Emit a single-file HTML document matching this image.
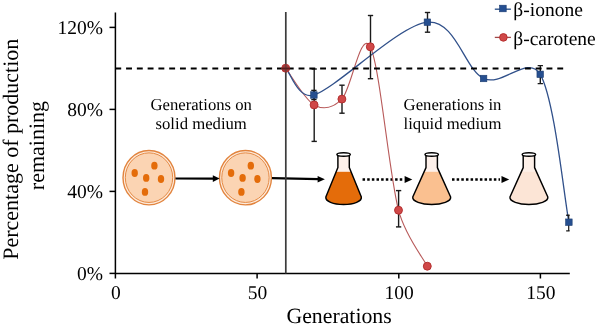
<!DOCTYPE html>
<html><head><meta charset="utf-8"><style>
html,body{margin:0;padding:0;background:#fff;width:598px;height:330px;overflow:hidden}
svg{display:block;will-change:transform}
text{text-rendering:geometricPrecision}
</style></head><body>
<svg width="598" height="330" viewBox="0 0 598 330">
<rect width="598" height="330" fill="#fff"/>
<g stroke="#000" stroke-width="1.5">
<line x1="115.4" y1="12.5" x2="115.4" y2="274"/>
<line x1="115" y1="273.4" x2="569.8" y2="273.4"/>
<line x1="109.5" y1="273.4" x2="115.4" y2="273.4"/>
<line x1="109.5" y1="191.4" x2="115.4" y2="191.4"/>
<line x1="109.5" y1="109.4" x2="115.4" y2="109.4"/>
<line x1="109.5" y1="27.4" x2="115.4" y2="27.4"/>
<line x1="115.4" y1="273.4" x2="115.4" y2="278.5"/>
<line x1="257.1" y1="273.4" x2="257.1" y2="278.5"/>
<line x1="398.8" y1="273.4" x2="398.8" y2="278.5"/>
<line x1="540.4" y1="273.4" x2="540.4" y2="278.5"/>
</g>
<ellipse cx="149.0" cy="177.65" rx="26.0" ry="27.2" fill="#fdebdc" stroke="#e2843e" stroke-width="1.4"/><ellipse cx="149.0" cy="177.65" rx="23.7" ry="24.8" fill="#fbd4b3" stroke="#e58a45" stroke-width="1"/><ellipse cx="134.7" cy="173.0" rx="3.2" ry="3.9" fill="#e46c0a"/><ellipse cx="154.4" cy="165.7" rx="3.2" ry="3.9" fill="#e46c0a"/><ellipse cx="146.2" cy="177.9" rx="3.2" ry="3.9" fill="#e46c0a"/><ellipse cx="161.0" cy="179.0" rx="3.2" ry="3.9" fill="#e46c0a"/><ellipse cx="145.0" cy="191.9" rx="3.2" ry="3.9" fill="#e46c0a"/>
<ellipse cx="245.45" cy="177.65" rx="26.0" ry="27.2" fill="#fdebdc" stroke="#e2843e" stroke-width="1.4"/><ellipse cx="245.45" cy="177.65" rx="23.7" ry="24.8" fill="#fbd4b3" stroke="#e58a45" stroke-width="1"/><ellipse cx="231.1" cy="173.0" rx="3.2" ry="3.9" fill="#e46c0a"/><ellipse cx="250.8" cy="165.7" rx="3.2" ry="3.9" fill="#e46c0a"/><ellipse cx="242.6" cy="177.9" rx="3.2" ry="3.9" fill="#e46c0a"/><ellipse cx="257.4" cy="179.0" rx="3.2" ry="3.9" fill="#e46c0a"/><ellipse cx="241.4" cy="191.9" rx="3.2" ry="3.9" fill="#e46c0a"/>
<g stroke="#000" stroke-width="2.2"><line x1="175.5" y1="178.5" x2="213.5" y2="178.6"/><line x1="272" y1="178.1" x2="318.5" y2="179.2"/></g>
<path d="M212.8,175.3 L219.6,178.6 L212.8,181.9 Z" fill="#000"/>
<path d="M317.6,176 L324.9,179.3 L317.6,182.6 Z" fill="#000"/>
<path d="M337.90000000000003,154.5 L337.90000000000003,167.6 L325.85,197.0 C325.25,201.3 333.10,204.5 343.6,204.5 C354.10,204.5 361.95,201.3 361.35,197.0 L349.3,167.6 L349.3,154.5 Z" fill="#fdf0ea"/><clipPath id="fc343"><path d="M337.90000000000003,154.5 L337.90000000000003,167.6 L325.85,197.0 C325.25,201.3 333.10,204.5 343.6,204.5 C354.10,204.5 361.95,201.3 361.35,197.0 L349.3,167.6 L349.3,154.5 Z"/></clipPath><rect x="318.6" y="171.8" width="50" height="40" fill="#e46c0a" clip-path="url(#fc343)"/><path d="M337.90000000000003,154.5 L337.90000000000003,167.6 L325.85,197.0 C325.25,201.3 333.10,204.5 343.6,204.5 C354.10,204.5 361.95,201.3 361.35,197.0 L349.3,167.6 L349.3,154.5 Z" fill="none" stroke="#000" stroke-width="1.45" stroke-linejoin="round"/><ellipse cx="343.6" cy="154.5" rx="6.7" ry="1.75" fill="#fff" stroke="#000" stroke-width="1.5"/>
<path d="M426.0,154.5 L426.0,167.6 L412.77,197.0 C412.17,201.3 421.20,204.5 431.7,204.5 C442.20,204.5 451.23,201.3 450.63,197.0 L437.4,167.6 L437.4,154.5 Z" fill="#fdf0ea"/><clipPath id="fc431"><path d="M426.0,154.5 L426.0,167.6 L412.77,197.0 C412.17,201.3 421.20,204.5 431.7,204.5 C442.20,204.5 451.23,201.3 450.63,197.0 L437.4,167.6 L437.4,154.5 Z"/></clipPath><rect x="406.7" y="171.8" width="50" height="40" fill="#fac090" clip-path="url(#fc431)"/><path d="M426.0,154.5 L426.0,167.6 L412.77,197.0 C412.17,201.3 421.20,204.5 431.7,204.5 C442.20,204.5 451.23,201.3 450.63,197.0 L437.4,167.6 L437.4,154.5 Z" fill="none" stroke="#000" stroke-width="1.45" stroke-linejoin="round"/><ellipse cx="431.7" cy="154.5" rx="6.7" ry="1.75" fill="#fff" stroke="#000" stroke-width="1.5"/>
<path d="M523.1999999999999,154.5 L523.1999999999999,167.6 L509.97,197.0 C509.37,201.3 518.40,204.5 528.9,204.5 C539.40,204.5 548.43,201.3 547.83,197.0 L534.6,167.6 L534.6,154.5 Z" fill="#fdf0e8"/><clipPath id="fc528"><path d="M523.1999999999999,154.5 L523.1999999999999,167.6 L509.97,197.0 C509.37,201.3 518.40,204.5 528.9,204.5 C539.40,204.5 548.43,201.3 547.83,197.0 L534.6,167.6 L534.6,154.5 Z"/></clipPath><rect x="503.9" y="171.8" width="50" height="40" fill="#fce5d6" clip-path="url(#fc528)"/><path d="M523.1999999999999,154.5 L523.1999999999999,167.6 L509.97,197.0 C509.37,201.3 518.40,204.5 528.9,204.5 C539.40,204.5 548.43,201.3 547.83,197.0 L534.6,167.6 L534.6,154.5 Z" fill="none" stroke="#000" stroke-width="1.45" stroke-linejoin="round"/><ellipse cx="528.9" cy="154.5" rx="6.7" ry="1.75" fill="#fff" stroke="#000" stroke-width="1.5"/>
<line x1="362.55" y1="179.4" x2="404" y2="179.4" stroke="#000" stroke-width="2.5" stroke-dasharray="2.5 2.15"/>
<path d="M404.6,175.9 L412.3,179.4 L404.6,182.9 Z" fill="#000"/>
<line x1="452" y1="179.5" x2="500" y2="179.5" stroke="#000" stroke-width="2.5" stroke-dasharray="2.5 2.15"/>
<path d="M501.5,176 L509.2,179.5 L501.5,183 Z" fill="#000"/>
<clipPath id="pa"><rect x="115" y="0" width="454.6" height="330"/></clipPath>
<g clip-path="url(#pa)">
<path d="M285.70,68.20 C290.43,74.32 304.73,99.75 314.10,104.90 C323.47,110.05 333.61,107.67 341.90,99.10 C351.27,89.42 360.87,28.28 370.30,46.80 C379.73,65.32 389.00,173.63 398.50,210.20 C405.15,235.80 422.50,256.87 427.30,266.20" fill="none" stroke="#b85a5a" stroke-width="1.1"/>
<path d="M285.70,68.20 C290.40,72.67 298.36,100.05 313.90,95.00 C337.52,87.33 399.12,24.95 427.40,22.20 C455.68,19.45 464.80,69.82 483.60,78.50 C502.40,87.18 528.03,53.80 540.20,74.30 C554.42,98.25 564.12,197.55 568.90,222.20" fill="none" stroke="#30508a" stroke-width="1.3"/>
<g stroke="#1a1a1a" stroke-width="1.4">
<line x1="314.2" y1="69" x2="314.2" y2="141.4" /><line x1="311.55" y1="69" x2="316.84999999999997" y2="69" /><line x1="311.55" y1="141.4" x2="316.84999999999997" y2="141.4" />
<line x1="342.0" y1="85.2" x2="342.0" y2="113.2" /><line x1="339.35" y1="85.2" x2="344.65" y2="85.2" /><line x1="339.35" y1="113.2" x2="344.65" y2="113.2" />
<line x1="370.5" y1="15.5" x2="370.5" y2="78.7" /><line x1="367.85" y1="15.5" x2="373.15" y2="15.5" /><line x1="367.85" y1="78.7" x2="373.15" y2="78.7" />
<line x1="398.6" y1="190.6" x2="398.6" y2="226.9" /><line x1="395.95000000000005" y1="190.6" x2="401.25" y2="190.6" /><line x1="395.95000000000005" y1="226.9" x2="401.25" y2="226.9" />
<line x1="313.9" y1="90.4" x2="313.9" y2="99.6" /><line x1="311.25" y1="90.4" x2="316.54999999999995" y2="90.4" /><line x1="311.25" y1="99.6" x2="316.54999999999995" y2="99.6" />
<line x1="427.5" y1="12.5" x2="427.5" y2="32.2" /><line x1="424.85" y1="12.5" x2="430.15" y2="12.5" /><line x1="424.85" y1="32.2" x2="430.15" y2="32.2" />
<line x1="540.3" y1="65.6" x2="540.3" y2="83.6" /><line x1="537.65" y1="65.6" x2="542.9499999999999" y2="65.6" /><line x1="537.65" y1="83.6" x2="542.9499999999999" y2="83.6" />
<line x1="568.8" y1="215.2" x2="568.8" y2="230.9" /><line x1="566.15" y1="215.2" x2="571.4499999999999" y2="215.2" /><line x1="566.15" y1="230.9" x2="571.4499999999999" y2="230.9" />
</g>
</g>
<rect x="310.65" y="91.75" width="6.5" height="6.5" fill="#264f90" stroke="#1c3d70" stroke-width="0.6"/>
<rect x="424.15" y="18.95" width="6.5" height="6.5" fill="#264f90" stroke="#1c3d70" stroke-width="0.6"/>
<rect x="480.35" y="75.25" width="6.5" height="6.5" fill="#264f90" stroke="#1c3d70" stroke-width="0.6"/>
<rect x="536.95" y="71.05" width="6.5" height="6.5" fill="#264f90" stroke="#1c3d70" stroke-width="0.6"/>
<rect x="565.65" y="218.95" width="6.5" height="6.5" fill="#264f90" stroke="#1c3d70" stroke-width="0.6"/>
<circle cx="314.1" cy="104.9" r="3.95" fill="#d04848" stroke="#b53030" stroke-width="1"/>
<circle cx="341.9" cy="99.1" r="3.95" fill="#d04848" stroke="#b53030" stroke-width="1"/>
<circle cx="370.3" cy="46.8" r="3.95" fill="#d04848" stroke="#b53030" stroke-width="1"/>
<circle cx="398.5" cy="210.2" r="3.95" fill="#d04848" stroke="#b53030" stroke-width="1"/>
<circle cx="427.3" cy="266.2" r="3.95" fill="#d04848" stroke="#b53030" stroke-width="1"/>
<line x1="115.3" y1="68.5" x2="564" y2="68.5" stroke="#000" stroke-width="1.8" stroke-dasharray="5.9 4.88"/>
<line x1="285.8" y1="12" x2="285.8" y2="273.4" stroke="#3c3c3c" stroke-width="1.7"/>
<circle cx="285.7" cy="68.2" r="3.95" fill="#a03a3a" stroke="#c03232" stroke-width="1"/>
<g opacity="0.45"><line x1="285.8" y1="63.5" x2="285.8" y2="73" stroke="#3c3c3c" stroke-width="1.7"/><line x1="281.5" y1="68.5" x2="290" y2="68.5" stroke="#000" stroke-width="1.8"/></g>
<line x1="494.8" y1="9.2" x2="510.9" y2="9.2" stroke="#34588f" stroke-width="1.4"/>
<rect x="499.6" y="5.2" width="6.6" height="6.6" fill="#254f92" stroke="#1a3a70" stroke-width="0.6"/>
<line x1="494.8" y1="37.4" x2="510.9" y2="37.4" stroke="#a04848" stroke-width="1.3"/>
<circle cx="503.4" cy="37.4" r="3.8" fill="#d04848" stroke="#b83030" stroke-width="1"/>
<g style="font-family:'Liberation Serif',serif" fill="#000" font-size="19.5">
<text x="513.3" y="16.4">β-ionone</text>
<text x="513.3" y="45">β-carotene</text>
<text x="103" y="280.2" text-anchor="end">0%</text>
<text x="103" y="198.2" text-anchor="end">40%</text>
<text x="103" y="116.2" text-anchor="end">80%</text>
<text x="103" y="34.2" text-anchor="end">120%</text>
<text x="115.9" y="298.6" text-anchor="middle">0</text>
<text x="257.6" y="298.6" text-anchor="middle">50</text>
<text x="399.2" y="298.6" text-anchor="middle">100</text>
<text x="540.9" y="298.6" text-anchor="middle">150</text>
<text x="339.1" y="323.3" text-anchor="middle" font-size="21.8">Generations</text>
</g>
<g style="font-family:'Liberation Serif',serif" fill="#000" font-size="16.7">
<text x="201.2" y="109.5" text-anchor="middle">Generations on</text>
<text x="201.2" y="129.1" text-anchor="middle">solid medium</text>
<text x="403.6" y="109.5">Generations in</text>
<text x="403.6" y="128.5">liquid medium</text>
</g>
<g style="font-family:'Liberation Serif',serif" fill="#000" font-size="22">
<text transform="translate(18.4,149.25) rotate(-90)" text-anchor="middle">Percentage of production</text>
<text transform="translate(43.8,145.6) rotate(-90)" text-anchor="middle">remaining</text>
</g>
</svg>
</body></html>
